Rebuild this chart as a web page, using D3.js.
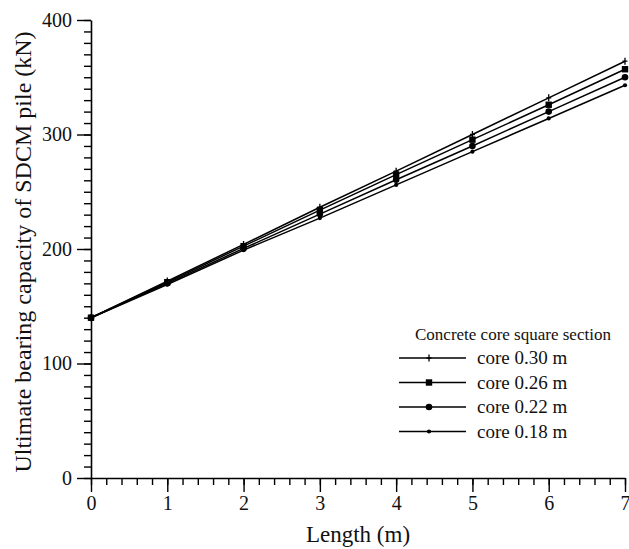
<!DOCTYPE html>
<html>
<head>
<meta charset="utf-8">
<script src="https://cdn.jsdelivr.net/npm/d3@7"></script>
<style>
  body { margin: 0; background: #fff; }
  svg { font-family: "Liberation Serif", "DejaVu Serif", serif; }
</style>
</head>
<body>
<div id="chart"></div>
<script>
// data
var lengths = [0, 1, 2, 3, 4, 5, 6, 7];
var core030 = [140, 172, 204, 236.5, 268, 300, 332, 364];
var core026 = [140, 171, 202.5, 234, 265, 295.5, 326, 357];
var core022 = [140, 170, 200.5, 230.5, 260.5, 290, 320, 350];
var core018 = [140, 169, 199, 227, 256, 285, 314, 343];
var seriesNames = ["core 0.30 m", "core 0.26 m", "core 0.22 m", "core 0.18 m"];
var xTicks = [0, 1, 2, 3, 4, 5, 6, 7];
var yTicks = [0, 100, 200, 300, 400];

var series = [core030, core026, core022, core018].map(function (vals, i) {
    return { name: seriesNames[i], marker: i, values: vals.map(function (v, j) { return { x: lengths[j], y: v }; }) };
});

var width = 629, height = 549;
var svg = d3.select("#chart").append("svg")
    .attr("width", width)
    .attr("height", height);

var x = d3.scaleLinear().domain([0, 7]).range([91, 625]);
var y = d3.scaleLinear().domain([0, 400]).range([478, 20]);

// minor ticks
svg.append("g")
    .attr("transform", "translate(0," + y(0) + ")")
    .call(d3.axisBottom(x).tickValues(d3.range(0, 7.01, 0.2)).tickSize(7).tickFormat(""))
    .call(function (g) { g.select(".domain").remove(); });
svg.append("g")
    .attr("transform", "translate(" + x(0) + ",0)")
    .call(d3.axisLeft(y).tickValues(d3.range(0, 401, 10)).tickSize(7).tickFormat(""))
    .call(function (g) { g.select(".domain").remove(); });

// major ticks + labels
var xAxis = svg.append("g")
    .attr("transform", "translate(0," + y(0) + ")")
    .call(d3.axisBottom(x).tickValues(xTicks).tickSize(14).tickPadding(4).tickSizeOuter(0).tickFormat(d3.format("d")));
var yAxis = svg.append("g")
    .attr("transform", "translate(" + x(0) + ",0)")
    .call(d3.axisLeft(y).tickValues(yTicks).tickSize(14).tickPadding(5).tickSizeOuter(0));

svg.selectAll(".tick line").attr("stroke", "#000").attr("stroke-width", 1.4);
svg.selectAll(".domain").attr("stroke", "#000").attr("stroke-width", 1.6);
svg.selectAll(".tick text").attr("font-size", 20).attr("fill", "#111")
    .attr("font-family", "Liberation Serif");

// axis titles
svg.append("text")
    .attr("x", (x(0) + x(7)) / 2)
    .attr("y", 542)
    .attr("text-anchor", "middle")
    .attr("font-size", 23)
    .attr("fill", "#111")
    .text("Length (m)");
svg.append("text")
    .attr("transform", "translate(31," + 252 + ") rotate(-90)")
    .attr("text-anchor", "middle")
    .attr("font-size", 24)
    .attr("fill", "#111")
    .text("Ultimate bearing capacity of SDCM pile (kN)");

var line = d3.line()
    .x(function (d) { return x(d.x); })
    .y(function (d) { return y(d.y); });

function drawMarker(sel, m) {
    if (m == 0) {
        sel.append("path").attr("d", "M-2.5,0H2.5M0,-3.5V3.5")
            .attr("stroke", "#000").attr("stroke-width", 1.3);
    } else if (m == 1) {
        sel.append("rect").attr("x", -3.2).attr("y", -3.2).attr("width", 6.4).attr("height", 6.4).attr("fill", "#000");
    } else if (m == 2) {
        sel.append("circle").attr("r", 3.3).attr("fill", "#000");
    } else {
        sel.append("circle").attr("r", 2.1).attr("fill", "#000");
    }
}

var groups = svg.selectAll(".series")
    .data(series)
    .enter().append("g")
    .attr("class", "series");

groups.append("path")
    .attr("d", function (d) { return line(d.values); })
    .attr("fill", "none")
    .attr("stroke", "#000")
    .attr("stroke-width", 1.5);

groups.each(function (s) {
    d3.select(this).selectAll(".pt")
        .data(s.values)
        .enter().append("g")
        .attr("class", "pt")
        .attr("transform", function (d) { return "translate(" + x(d.x) + "," + y(d.y) + ")"; })
        .each(function () { drawMarker(d3.select(this), s.marker); });
});

// legend
var legend = svg.append("g");
legend.append("text")
    .attr("x", 415)
    .attr("y", 340)
    .attr("font-size", 17)
    .attr("fill", "#111")
    .text("Concrete core square section");

var rows = legend.selectAll(".row")
    .data(series)
    .enter().append("g")
    .attr("class", "row")
    .attr("transform", function (d, i) { return "translate(0," + (358 + i * 24.5) + ")"; });
rows.append("line")
    .attr("x1", 399).attr("x2", 466)
    .attr("stroke", "#000").attr("stroke-width", 1.5);
rows.each(function (d) {
    var g = d3.select(this).append("g").attr("transform", "translate(429,0)");
    drawMarker(g, d.marker);
});
rows.append("text")
    .attr("x", 477)
    .attr("y", 6)
    .attr("font-size", 19)
    .attr("fill", "#111")
    .text(function (d) { return d.name; });
</script>
</body>
</html>
